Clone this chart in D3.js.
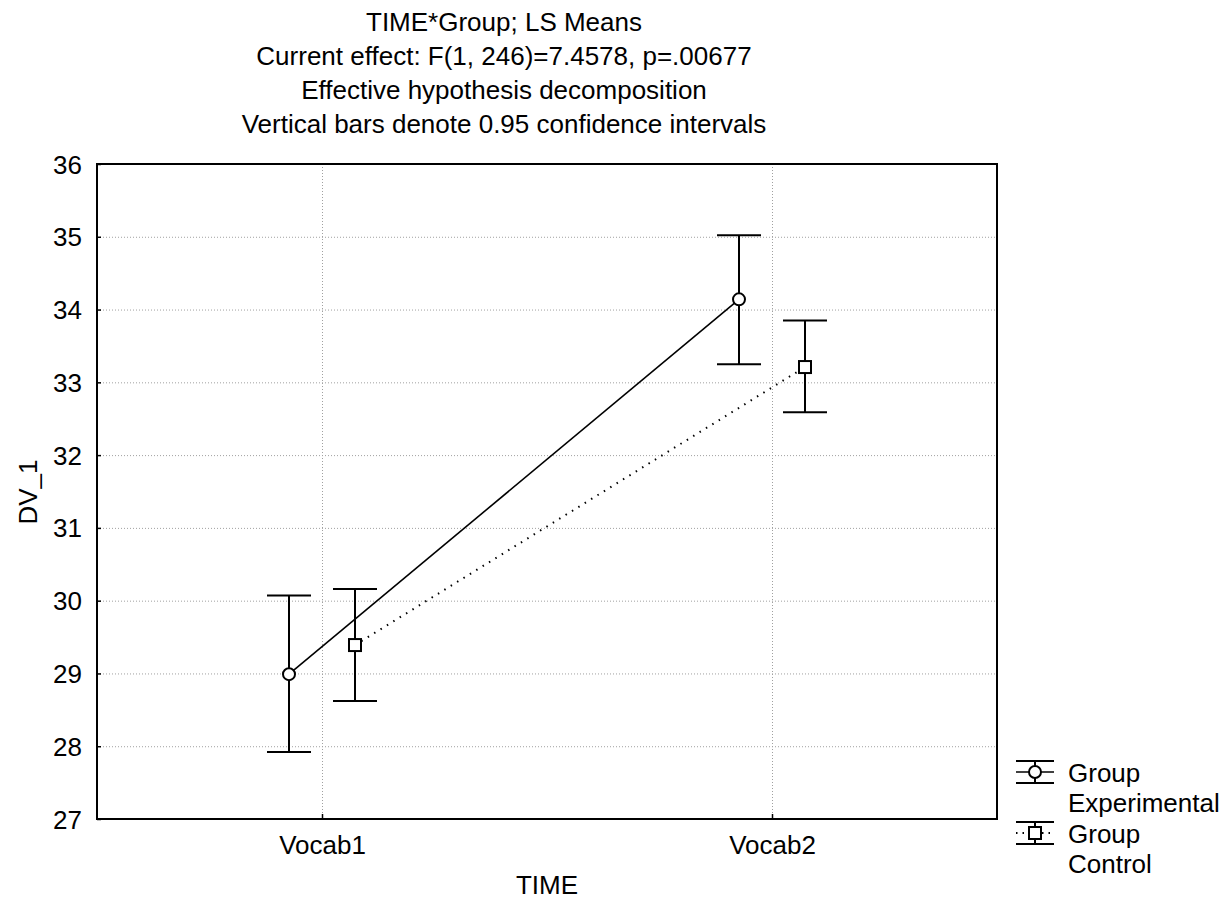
<!doctype html>
<html lang="en">
<head>
<title>TIME*Group LS Means</title>
<script src="https://d3js.org/d3.v7.min.js"></script>
<style>
  body { margin: 0; background: #fff; }
  text { font-family: "Liberation Sans", Arial, sans-serif; fill: #000; }
  .grid line { stroke: #a0a0a0; stroke-dasharray: 1,2; }
</style>
</head>
<body>
<div id="chart"></div>
<script>
var times = ["Vocab1", "Vocab2"];
var groups = ["Experimental", "Control"];
var expMean = [28.99, 34.14];
var expLow = [27.92, 33.25];
var expHigh = [30.07, 35.02];
var ctlMean = [29.39, 33.21];
var ctlLow = [28.62, 32.59];
var ctlHigh = [30.16, 33.85];
var yTicks = [27, 28, 29, 30, 31, 32, 33, 34, 35, 36];
var titleLines = ["TIME*Group; LS Means",
  "Current effect: F(1, 246)=7.4578, p=.00677",
  "Effective hypothesis decomposition",
  "Vertical bars denote 0.95 confidence intervals"];

var series = [
  {name: groups[0], mean: expMean, low: expLow, high: expHigh},
  {name: groups[1], mean: ctlMean, low: ctlLow, high: ctlHigh}
];

var W = 1232, H = 906;
var pLeft = 97, pRight = 997, pTop = 164, pBottom = 819;
var fs = "26px";

var svg = d3.select("#chart").append("svg")
  .attr("width", W).attr("height", H);

var x = d3.scalePoint().domain(times).range([pLeft, pRight]).padding(0.5);
var off = d3.scalePoint().domain(groups).range([-33, 33]);
var y = d3.scaleLinear().domain([27, 36]).range([pBottom, pTop]);

// titles
svg.selectAll(".title").data(titleLines).enter().append("text")
  .attr("x", 504).attr("y", function(d, i) { return 31 + i * 34; })
  .attr("text-anchor", "middle").style("font-size", fs).text(function(d) { return d; });

// grid
var grid = svg.append("g").attr("class", "grid");
grid.selectAll(".gy").data(yTicks.slice(1, -1)).enter().append("line")
  .attr("x1", pLeft).attr("x2", pRight)
  .attr("y1", function(d) { return y(d) + 0.5; }).attr("y2", function(d) { return y(d) + 0.5; });
grid.selectAll(".gx").data(times).enter().append("line")
  .attr("y1", pTop).attr("y2", pBottom)
  .attr("x1", function(d) { return x(d) + 0.5; }).attr("x2", function(d) { return x(d) + 0.5; });

// axes
var yAxis = d3.axisLeft(y).tickValues(yTicks).tickSizeInner(-4).tickSizeOuter(0).tickPadding(15);
var gy = svg.append("g").attr("transform", "translate(" + pLeft + ",0)").call(yAxis);
gy.select(".domain").remove();
gy.selectAll("text").style("font-size", fs).attr("dy", "0.35em");
gy.selectAll("line").attr("stroke", "#000").attr("stroke-width", 1.5);

var xAxis = d3.axisBottom(x).tickSizeInner(-5).tickSizeOuter(0).tickPadding(17);
var gx = svg.append("g").attr("transform", "translate(0," + pBottom + ")").call(xAxis);
gx.select(".domain").remove();
gx.selectAll("text").style("font-size", fs);
gx.selectAll("line").attr("stroke", "#000").attr("stroke-width", 1.5);

// frame
svg.append("rect").attr("x", pLeft).attr("y", pTop)
  .attr("width", pRight - pLeft).attr("height", pBottom - pTop)
  .attr("fill", "none").attr("stroke", "#000").attr("stroke-width", 2);

// axis titles
svg.append("text").attr("x", 547).attr("y", 894).attr("text-anchor", "middle")
  .style("font-size", fs).text("TIME");
svg.append("text").attr("transform", "translate(37,492) rotate(-90)")
  .attr("text-anchor", "middle").style("font-size", fs).text("DV_1");

// connecting lines
var line = d3.line()
  .x(function(d, i) { return x(times[i]); })
  .y(function(d) { return y(d); });

series.forEach(function(s, k) {
  var o = off(s.name);
  svg.append("path").datum(s.mean)
    .attr("transform", "translate(" + o + ",0)")
    .attr("d", line).attr("fill", "none").attr("stroke", "#000")
    .attr("stroke-width", k === 0 ? 1.6 : 2)
    .attr("stroke-dasharray", k === 0 ? null : "1.5,6");

  var g = svg.append("g");
  times.forEach(function(t, i) {
    var cx = x(t) + o;
    g.append("line").attr("x1", cx).attr("x2", cx)
      .attr("y1", y(s.low[i])).attr("y2", y(s.high[i]))
      .attr("stroke", "#000").attr("stroke-width", 2);
    [s.low[i], s.high[i]].forEach(function(v) {
      g.append("line").attr("x1", cx - 22).attr("x2", cx + 22)
        .attr("y1", y(v)).attr("y2", y(v))
        .attr("stroke", "#000").attr("stroke-width", 2);
    });
    if (k === 0) {
      g.append("circle").attr("cx", cx).attr("cy", y(s.mean[i])).attr("r", 6)
        .attr("fill", "#fff").attr("stroke", "#000").attr("stroke-width", 2);
    } else {
      g.append("rect").attr("x", cx - 6).attr("y", y(s.mean[i]) - 6)
        .attr("width", 12).attr("height", 12)
        .attr("fill", "#fff").attr("stroke", "#000").attr("stroke-width", 2);
    }
  });
});

// legend
var legend = svg.append("g");
series.forEach(function(s, k) {
  var cy = k === 0 ? 772 : 833;
  var lx = 1035;
  legend.append("line").attr("x1", lx - 19).attr("x2", lx + 19).attr("y1", cy).attr("y2", cy)
    .attr("stroke", "#000").attr("stroke-width", k === 0 ? 1.6 : 2)
    .attr("stroke-dasharray", k === 0 ? null : "1.5,5");
  legend.append("line").attr("x1", lx).attr("x2", lx).attr("y1", cy - 11).attr("y2", cy + 11)
    .attr("stroke", "#000").attr("stroke-width", 2);
  [cy - 11, cy + 11].forEach(function(v) {
    legend.append("line").attr("x1", lx - 19).attr("x2", lx + 19).attr("y1", v).attr("y2", v)
      .attr("stroke", "#000").attr("stroke-width", 2);
  });
  if (k === 0) {
    legend.append("circle").attr("cx", lx).attr("cy", cy).attr("r", 6)
      .attr("fill", "#fff").attr("stroke", "#000").attr("stroke-width", 2);
  } else {
    legend.append("rect").attr("x", lx - 6).attr("y", cy - 6).attr("width", 12).attr("height", 12)
      .attr("fill", "#fff").attr("stroke", "#000").attr("stroke-width", 2);
  }
  legend.append("text").attr("x", 1068).attr("y", cy + 10)
    .style("font-size", fs).text("Group");
  legend.append("text").attr("x", 1068).attr("y", cy + 40)
    .style("font-size", fs).text(s.name);
});
</script>
</body>
</html>
